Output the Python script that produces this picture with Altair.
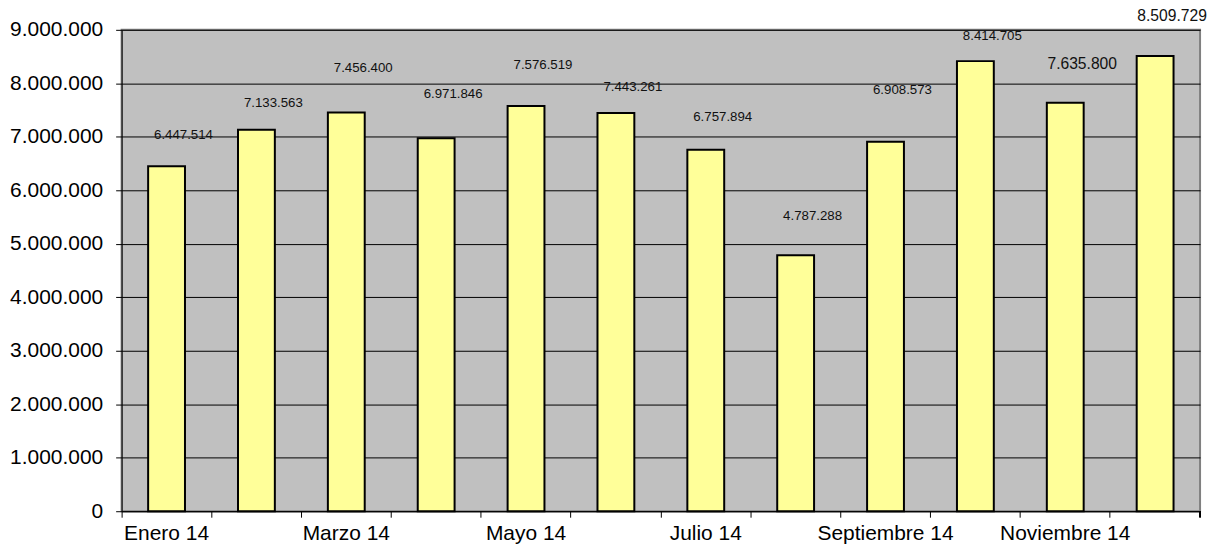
import altair as alt
import pandas as pd

months = ["Enero 14", "Febrero 14", "Marzo 14", "Abril 14", "Mayo 14", "Junio 14",
          "Julio 14", "Agosto 14", "Septiembre 14", "Octubre 14", "Noviembre 14", "Diciembre 14"]
values = [6447514, 7133563, 7456400, 6971846, 7576519, 7443261,
          6757894, 4787288, 6908573, 8414705, 7635800, 8509729]
# where each value label sits (in axis units), as placed in the original
label_anchor = [7025000, 7640000, 8292000, 7807000, 8348000, 7938000,
                7379000, 5516000, 7882000, 8888000, 8366000, 9255000]
shown_months = ["Enero 14", "Marzo 14", "Mayo 14", "Julio 14", "Septiembre 14", "Noviembre 14"]
big_labels = ["Noviembre 14", "Diciembre 14"]

df = pd.DataFrame({"month": months, "value": values, "anchor": label_anchor})

W, H = 1082, 483
fmt = "replace(format(datum.value, ','), /,/g, '.')"
shown_js = "[" + ",".join("'" + m + "'" for m in shown_months) + "]"
big_js = "[" + ",".join("'" + m + "'" for m in big_labels) + "]"

x_enc = alt.X("month:N", sort=months, title=None,
              scale=alt.Scale(paddingInner=0, paddingOuter=0),
              axis=alt.Axis(bandPosition=0,
                            labelExpr="indexof(" + shown_js + ", datum.label) >= 0 ? datum.label : ''",
                            labelAngle=0, labelFont="Liberation Sans", labelFontSize=21,
                            labelColor="black", domainColor="black", tickColor="black",
                            tickSize=6, labelPadding=5, grid=False, labelOverlap=False))

bars = alt.Chart(df).mark_bar(
    width=alt.RelativeBandSize(0.41), color="#FFFF99", stroke="black", strokeWidth=2
).encode(
    x=x_enc,
    y=alt.Y("value:Q", title=None,
            scale=alt.Scale(domain=[0, 9000000], nice=False),
            axis=alt.Axis(values=list(range(0, 9000001, 1000000)), labelExpr=fmt,
                          labelFont="Liberation Sans", labelFontSize=21, labelColor="black",
                          domainColor="black", tickColor="black", tickSize=6,
                          gridColor="black", gridWidth=1, gridOpacity=1, labelPadding=13)),
)

texts = alt.Chart(df).transform_calculate(
    label="replace(format(datum.value, ','), /,/g, '.')",
    big="indexof(" + big_js + ", datum.month) >= 0",
).mark_text(font="Liberation Sans", color="#111111", dx=17, clip=False, baseline="middle").encode(
    x=alt.X("month:N", sort=months),
    y=alt.Y("anchor:Q"),
    text="label:N",
    size=alt.condition("datum.big", alt.value(15.7), alt.value(13.3)),
)

last_tick = alt.Chart(df).mark_rule(color="black").encode(
    x=alt.value(W), y=alt.value(H), y2=alt.value(H + 6)
)

chart = alt.layer(bars, texts, last_tick).properties(
    width=W, height=H,
    background="white",
    autosize=alt.AutoSizeParams(type="none"),
    padding={"left": 114, "top": 21, "right": 16, "bottom": 33},
).configure_view(
    fill="#C0C0C0", stroke="#808080", strokeWidth=2
)

chart.save("out.html", embed_options={"renderer": "svg", "actions": False})
